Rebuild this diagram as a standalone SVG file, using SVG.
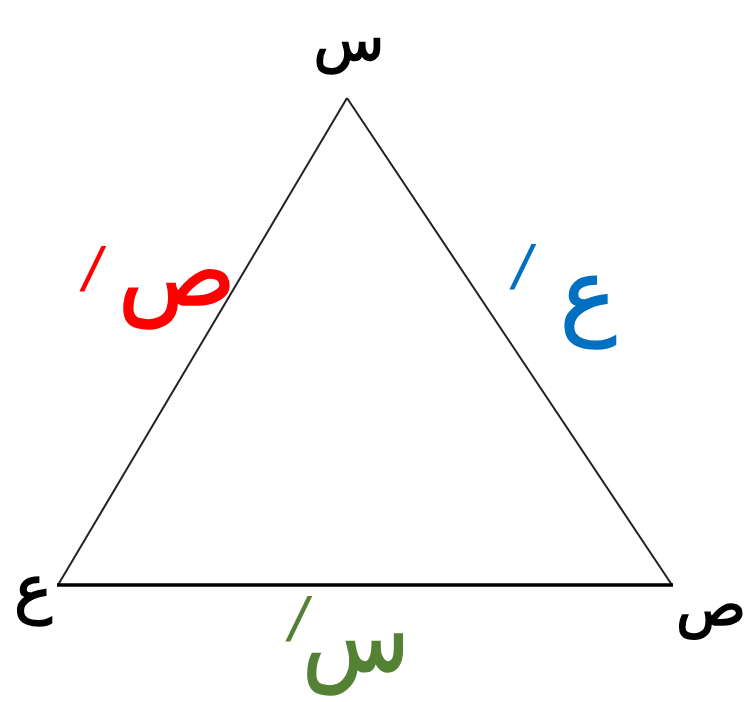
<svg xmlns="http://www.w3.org/2000/svg" width="748" height="702" viewBox="0 0 748 702">
<style>
.v{font-family:"DejaVu Sans","Noto Sans",sans-serif;fill:#000;stroke:#000;stroke-width:1.5;text-anchor:middle}
.s{font-family:"DejaVu Sans","Noto Sans",sans-serif;text-anchor:middle;stroke-width:1.5}
.p{font-family:"Liberation Sans",Arial,sans-serif;font-size:62px;text-anchor:middle}
</style>
<rect width="748" height="702" fill="#fff"/>
<g id="connectors">
<line x1="347" y1="98" x2="58" y2="585" stroke="#222" stroke-width="2"/>
<line x1="347" y1="98" x2="672" y2="585" stroke="#222" stroke-width="2"/>
<line x1="57" y1="585" x2="673" y2="585" stroke="#000" stroke-width="3.5"/>
</g>
<g id="vertex-top"><text class="v" x="349" y="60" font-size="58">س</text></g>
<g id="vertex-left"><text class="v" x="33" y="610" font-size="64">ع</text></g>
<g id="vertex-right"><text class="v" x="711" y="625" font-size="58">ص</text></g>
<g id="side-left">
<text class="s" x="177" y="305" font-size="98" fill="#FF0000" stroke="#FF0000">ص</text>
<text class="p" x="0" y="0" fill="#FF0000" transform="translate(88,291) skewX(-12)">/</text>
</g>
<g id="side-right">
<text class="s" x="588" y="326" font-size="95" fill="#0070C0" stroke="#0070C0">ع</text>
<text class="p" x="0" y="0" fill="#0070C0" transform="translate(518,289) skewX(-12)">/</text>
</g>
<g id="side-bottom">
<text class="s" x="0" y="0" font-size="100" fill="#548235" stroke="#548235" transform="translate(356,671) scale(0.88,1)">س</text>
<text class="p" x="0" y="0" fill="#548235" transform="translate(294,641) skewX(-12)">/</text>
</g>
</svg>
